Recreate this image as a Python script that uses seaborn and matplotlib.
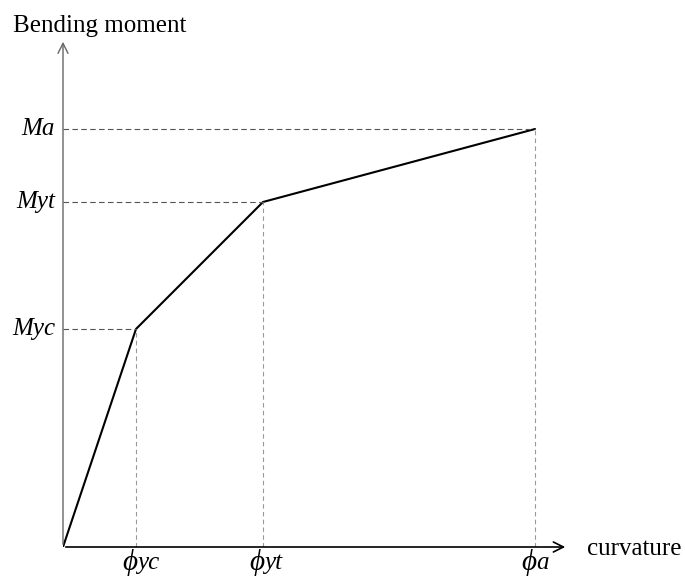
import numpy as np
import pandas as pd
import seaborn as sns
import matplotlib.pyplot as plt

# trilinear moment-curvature model (arbitrary units)
curvature = [0.0, 0.73, 2.00, 4.72]
moment = [0.0, 2.18, 3.45, 4.18]
phi_labels = ['yc', 'yt', 'a']
m_labels = ['Myc', 'Myt', 'Ma']

df = pd.DataFrame({'curvature': curvature, 'moment': moment})

sns.set_style('white')
plt.rcParams['font.family'] = ['Liberation Serif', 'DejaVu Serif']
plt.rcParams['text.color'] = 'black'

fig = plt.figure(figsize=(6.85, 5.76), dpi=100)
ax = fig.add_axes([63 / 685, 29 / 576, 505 / 685, 508 / 576])

sns.lineplot(data=df, x='curvature', y='moment', color='black', linewidth=1.5, ax=ax)

# dashed guide lines
for cx, my in zip(curvature[1:], moment[1:]):
    ax.plot([0, cx], [my, my], ls='--', lw=0.8, color='#555555', dashes=(5, 3))
    ax.plot([cx, cx], [0, my], ls='--', lw=0.8, color='#999999', dashes=(4, 3))

ax.set_xlim(0, 5.05)
ax.set_ylim(0, 5.08)
for s in ax.spines.values():
    s.set_visible(False)
ax.set_xticks([])
ax.set_yticks([])
ax.set_xlabel('')
ax.set_ylabel('')

# axes with open arrow heads
ax.annotate('', xy=(5.05, 0), xytext=(0, 0), annotation_clip=False,
            arrowprops=dict(arrowstyle='->', color='black', lw=1.2, mutation_scale=18))
ax.annotate('', xy=(0, 5.08), xytext=(0, 0), annotation_clip=False,
            arrowprops=dict(arrowstyle='->', color='#666666', lw=1.0, mutation_scale=18))

# moment labels
for my, lab in zip(moment[1:], m_labels):
    ax.text(-0.08, my, lab, ha='right', va='center', fontsize=18, style='italic', clip_on=False)

# curvature labels
for cx, lab in zip(curvature[1:], phi_labels):
    ax.text(cx + 0.01, -0.02, '\u03d5', ha='right', va='top', fontsize=21, style='italic', clip_on=False)
    ax.text(cx + 0.01, -0.05, lab, ha='left', va='top', fontsize=18, style='italic', clip_on=False)

ax.text(5.24, -0.08, 'curvature', ha='left', va='baseline', fontsize=18, clip_on=False)
fig.text(13 / 685, 1 - 32 / 576, 'Bending moment', ha='left', va='baseline', fontsize=18)

fig.savefig('out.png', dpi=100)
